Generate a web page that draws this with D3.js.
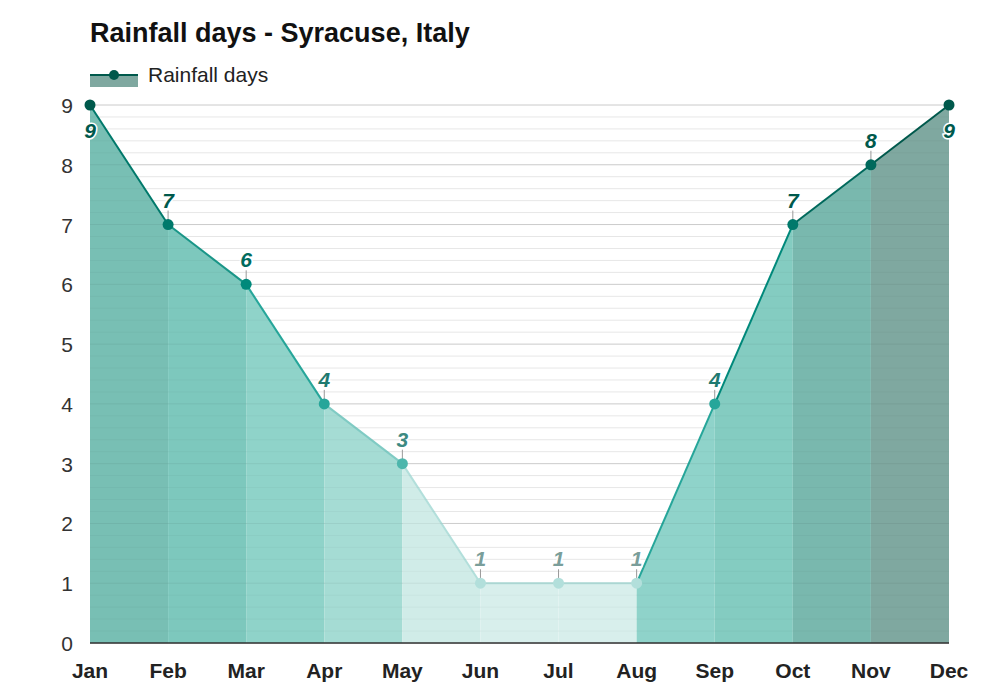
<!DOCTYPE html><html><head><meta charset="utf-8"><script src="https://cdn.jsdelivr.net/npm/d3@7"></script>
<style>body{margin:0;background:#fff}svg{font-family:Arial,"Liberation Sans",sans-serif}</style></head><body><svg id="c" width="1000" height="700"></svg>
<script>
const months=["Jan","Feb","Mar","Apr","May","Jun","Jul","Aug","Sep","Oct","Nov","Dec"];
const values=[9,7,6,4,3,1,1,1,4,7,8,9];
const yTicks=[0,1,2,3,4,5,6,7,8,9];
const segFill=["#78bfb4","#7dc8bd","#8fd3c9","#a5dcd4","#d0ece8","#d8efec","#d8efec","#8fd3ca","#84ccc1","#79b8ae","#7fa8a0"];
const segLine=["#00796b","#1a9688","#26a69a","#80cbc4","#b2dfdb","#b2dfdb","#b2dfdb","#26a69a","#00897b","#00695c","#00594c"];
const ptColor={9:"#00594c",8:"#00695c",7:"#00796b",6:"#00897b",4:"#26a69a",3:"#4db6ac",1:"#b2dfdb"};
const lblColor={9:"#00594c",8:"#00594c",7:"#00594c",6:"#006b5e",4:"#1f7a70",3:"#3d8a82",1:"#7a9e9a"};
const svg=d3.select("#c");
const x=d3.scalePoint().domain(months).range([90,949]);
const y=d3.scaleLinear().domain([0,9]).range([643,105]);
// minor grid
const g=svg.append("g");
for(let v=0;v<=9.001;v+=0.2){g.append("line").attr("x1",90).attr("x2",949).attr("y1",y(v)).attr("y2",y(v)).attr("stroke",Math.abs(v-Math.round(v))<0.01?"#d8d8d8":"#eeeeee").attr("stroke-width",1);}
// segments
for(let i=0;i<11;i++){
  const a=[x(months[i]),y(values[i])],b=[x(months[i+1]),y(values[i+1])];
  svg.append("path").attr("d",`M${a[0]},${y(0)}L${a[0]},${a[1]}L${b[0]},${b[1]}L${b[0]},${y(0)}Z`).attr("fill",segFill[i]);
}
for(let i=0;i<11;i++){
  svg.append("line").attr("x1",x(months[i])).attr("y1",y(values[i])).attr("x2",x(months[i+1])).attr("y2",y(values[i+1])).attr("stroke",segLine[i]).attr("stroke-width",2);
}
// gridlines over fill faintly
for(let v=0;v<=9.001;v+=0.2){g.clone;svg.append("line").attr("x1",90).attr("x2",949).attr("y1",y(v)).attr("y2",y(v)).attr("stroke","#000").attr("stroke-opacity",Math.abs(v-Math.round(v))<0.01?0.06:0.03);}
svg.append("line").attr("x1",90).attr("x2",949).attr("y1",y(0)).attr("y2",y(0)).attr("stroke","#333").attr("stroke-width",1.5);
// points and labels
values.forEach((v,i)=>{
  const cx=x(months[i]),cy=y(v);
  const below=(i===0||i===11);
  if(!below) svg.append("line").attr("x1",cx).attr("x2",cx).attr("y1",cy-4).attr("y2",cy-14).attr("stroke","#999");
  svg.append("circle").attr("cx",cx).attr("cy",cy).attr("r",5.5).attr("fill",ptColor[v]);
  svg.append("text").attr("x",cx).attr("y",below?cy+33:cy-17).attr("text-anchor","middle").attr("font-size",21).attr("font-weight","bold").attr("font-style","italic").attr("fill",lblColor[v]).attr("stroke","#fff").attr("stroke-width",3).attr("paint-order","stroke").text(v);
});
// axes
yTicks.forEach(t=>svg.append("text").attr("x",67).attr("y",y(t)+8).attr("text-anchor","middle").attr("font-size",21).attr("fill","#333").text(t));
months.forEach(m=>svg.append("text").attr("x",x(m)).attr("y",678).attr("text-anchor","middle").attr("font-size",21).attr("font-weight","bold").attr("fill","#222").text(m));
// title & legend
svg.append("text").attr("x",90).attr("y",42).attr("font-size",27).attr("font-weight","bold").attr("fill","#111").text("Rainfall days - Syracuse, Italy");
svg.append("rect").attr("x",90).attr("y",75).attr("width",48).attr("height",12).attr("fill","#7fa8a0");
svg.append("line").attr("x1",90).attr("x2",138).attr("y1",75).attr("y2",75).attr("stroke","#00594c").attr("stroke-width",2);
svg.append("circle").attr("cx",114).attr("cy",75).attr("r",5).attr("fill","#00594c");
svg.append("text").attr("x",148).attr("y",82).attr("font-size",21).attr("fill","#222").text("Rainfall days");
</script></body></html>
